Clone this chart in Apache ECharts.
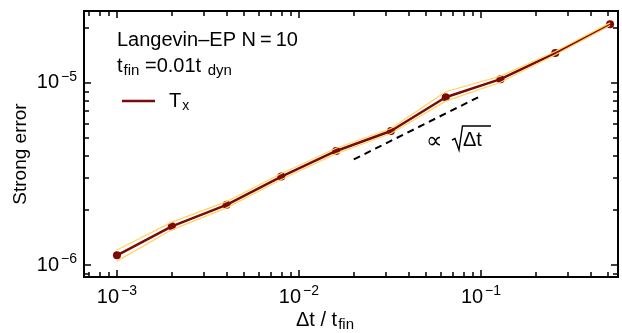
<!DOCTYPE html>
<html>
<head>
<meta charset="utf-8">
<script src="https://cdn.jsdelivr.net/npm/echarts@6/dist/echarts.min.js"></script>
<style>
  html, body { margin: 0; padding: 0; background: #fff; }
  #main { width: 622px; height: 333px; }
</style>
</head>
<body>
<div id="main"></div>
<script>
// values
var dtValues = [0.001, 0.002, 0.004, 0.008, 0.016, 0.032, 0.064, 0.128, 0.256, 0.512];
var errTx    = [1.13e-6, 1.63e-6, 2.14e-6, 3.06e-6, 4.23e-6, 5.45e-6, 8.35e-6, 1.05e-5, 1.46e-5, 2.10e-5];
var errUpper = [1.21e-6, 1.72e-6, 2.23e-6, 3.18e-6, 4.38e-6, 5.62e-6, 8.95e-6, 1.09e-5, 1.49e-5, 2.14e-5];
var errLower = [1.05e-6, 1.56e-6, 2.06e-6, 2.95e-6, 4.09e-6, 5.28e-6, 7.95e-6, 1.01e-5, 1.43e-5, 2.07e-5];
var slopeX = [0.02, 0.1];
var slopeY = [3.8e-6, 8.5e-6];
var xMajor = [1e-3, 1e-2, 1e-1];
var yMajor = [1e-6, 1e-5];
var xRange = [6.59e-4, 0.566];
var yRange = [8.59e-7, 2.486e-5];

var FONT = 'Liberation Sans, Arial, Helvetica, sans-serif';

function zip(a, b) {
  return a.map(function (v, i) { return [v, b[i]]; });
}
function logs(arr) {
  return arr.map(function (v) { return Math.log10(v); });
}
// 2..9 x decade minor ticks inside the range
function minorTicks(range) {
  var out = [];
  for (var e = Math.floor(Math.log10(range[0])); e <= Math.ceil(Math.log10(range[1])); e++) {
    for (var m = 2; m <= 9; m++) {
      var v = m * Math.pow(10, e);
      if (v >= range[0] && v <= range[1]) out.push(Math.log10(v));
    }
  }
  return out;
}

var tickLabel = {
  rich: {
    b: { fontFamily: FONT, fontSize: 20, color: '#000' },
    s: { fontFamily: FONT, fontSize: 14, color: '#000', padding: [0, 0, 12, 2] }
  },
  formatter: function (v) {
    return '{b|10}{s|\u2212' + Math.round(-v) + '}';
  }
};

// value axes in log10 space, only used to draw ticks and labels
function tickAxis(pos, range, values, len, labels) {
  var ax = {
    type: 'value',
    position: pos,
    min: Math.log10(range[0]),
    max: Math.log10(range[1]),
    axisLine: { show: false },
    splitLine: { show: false },
    axisTick: {
      show: true, inside: true, length: len, customValues: values,
      lineStyle: { color: '#000', width: 1.5 }
    },
    axisLabel: { show: false }
  };
  if (labels) {
    ax.axisLabel = Object.assign({ show: true, margin: 7, customValues: values }, tickLabel);
  }
  return ax;
}

var chart = echarts.init(document.getElementById('main'));

var option = {
  animation: false,
  backgroundColor: '#fff',
  grid: {
    left: 84, right: 4, top: 11, bottom: 56,
    show: true, borderColor: '#000', borderWidth: 2, backgroundColor: 'transparent'
  },
  xAxis: [
    { type: 'log', min: xRange[0], max: xRange[1], show: false },
    tickAxis('bottom', xRange, logs(xMajor), 7, true),
    tickAxis('bottom', xRange, minorTicks(xRange), 5, false),
    tickAxis('top', xRange, logs(xMajor), 7, false),
    tickAxis('top', xRange, minorTicks(xRange), 5, false)
  ],
  yAxis: [
    { type: 'log', min: yRange[0], max: yRange[1], show: false },
    tickAxis('left', yRange, logs(yMajor), 7, true),
    tickAxis('left', yRange, minorTicks(yRange), 5, false),
    tickAxis('right', yRange, logs(yMajor), 7, false),
    tickAxis('right', yRange, minorTicks(yRange), 5, false)
  ],
  legend: {
    left: 117, top: 86,
    data: [{ name: 'Tx', icon: 'rect' }],
    itemWidth: 33, itemHeight: 2.5,
    formatter: function () { return '{a|T}{b|x}'; },
    textStyle: {
      rich: {
        a: { fontFamily: FONT, fontSize: 20, color: '#000', padding: [0, 0, 0, 9] },
        b: { fontFamily: FONT, fontSize: 14, color: '#000', padding: [11, 0, 0, 1] }
      }
    }
  },
  series: [
    {
      name: 'Tx', type: 'line', xAxisIndex: 0, yAxisIndex: 0,
      data: zip(dtValues, errTx),
      color: '#7d0a0a',
      lineStyle: { color: '#7d0a0a', width: 2.5 },
      symbol: 'circle', symbolSize: 8,
      itemStyle: { color: '#7d0a0a' },
      z: 2
    },
    {
      name: 'upper', type: 'line', xAxisIndex: 0, yAxisIndex: 0,
      data: zip(dtValues, errUpper),
      symbol: 'none', silent: true,
      lineStyle: { color: '#ffd45e', width: 1.2 },
      z: 3
    },
    {
      name: 'lower', type: 'line', xAxisIndex: 0, yAxisIndex: 0,
      data: zip(dtValues, errLower),
      symbol: 'none', silent: true,
      lineStyle: { color: '#ffd45e', width: 1.2 },
      z: 3
    },
    {
      name: 'slope', type: 'line', xAxisIndex: 0, yAxisIndex: 0,
      data: zip(slopeX, slopeY),
      symbol: 'none', silent: true,
      lineStyle: { color: '#000', width: 2, type: [7, 5] },
      z: 2
    }
  ],
  graphic: [
    {
      type: 'text', left: 117, top: 30,
      style: { text: 'Langevin\u2013EP N\u2009=\u200910', font: '20px ' + FONT, fill: '#000' }
    },
    {
      type: 'text', left: 117, top: 56,
      style: {
        text: '{m|t}{s|fin}{m| =0.01t }{s|dyn}',
        rich: {
          m: { fontFamily: FONT, fontSize: 20, fill: '#000' },
          s: { fontFamily: FONT, fontSize: 15, fill: '#000', padding: [10, 0, 0, 1] }
        }
      }
    },
    {
      type: 'text', left: 426, top: 130,
      style: {
        text: '{p|\u221d}',
        rich: { p: { fontFamily: 'Liberation Serif, serif', fontSize: 23, fill: '#000' } }
      }
    },
    {
      // radical sign of the sqrt, with its overbar
      type: 'polyline',
      shape: { points: [[452, 140], [455, 138.5], [459, 150], [462.5, 126], [491, 126]] },
      style: { stroke: '#000', lineWidth: 1.4, fill: null }
    },
    {
      type: 'text', left: 463, top: 130,
      style: { text: '\u0394t', font: '20px ' + FONT, fill: '#000' }
    },
    {
      type: 'text', left: 296, top: 310,
      style: {
        text: '{m|\u0394t / t}{s|fin}',
        rich: {
          m: { fontFamily: FONT, fontSize: 20, fill: '#000' },
          s: { fontFamily: FONT, fontSize: 15, fill: '#000', padding: [10, 0, 0, 1] }
        }
      }
    },
    {
      type: 'text', x: 21, y: 154, rotation: Math.PI / 2,
      style: {
        text: 'Strong error', font: '19px ' + FONT, fill: '#000',
        align: 'center', verticalAlign: 'middle'
      }
    }
  ]
};

chart.setOption(option);
</script>
</body>
</html>
